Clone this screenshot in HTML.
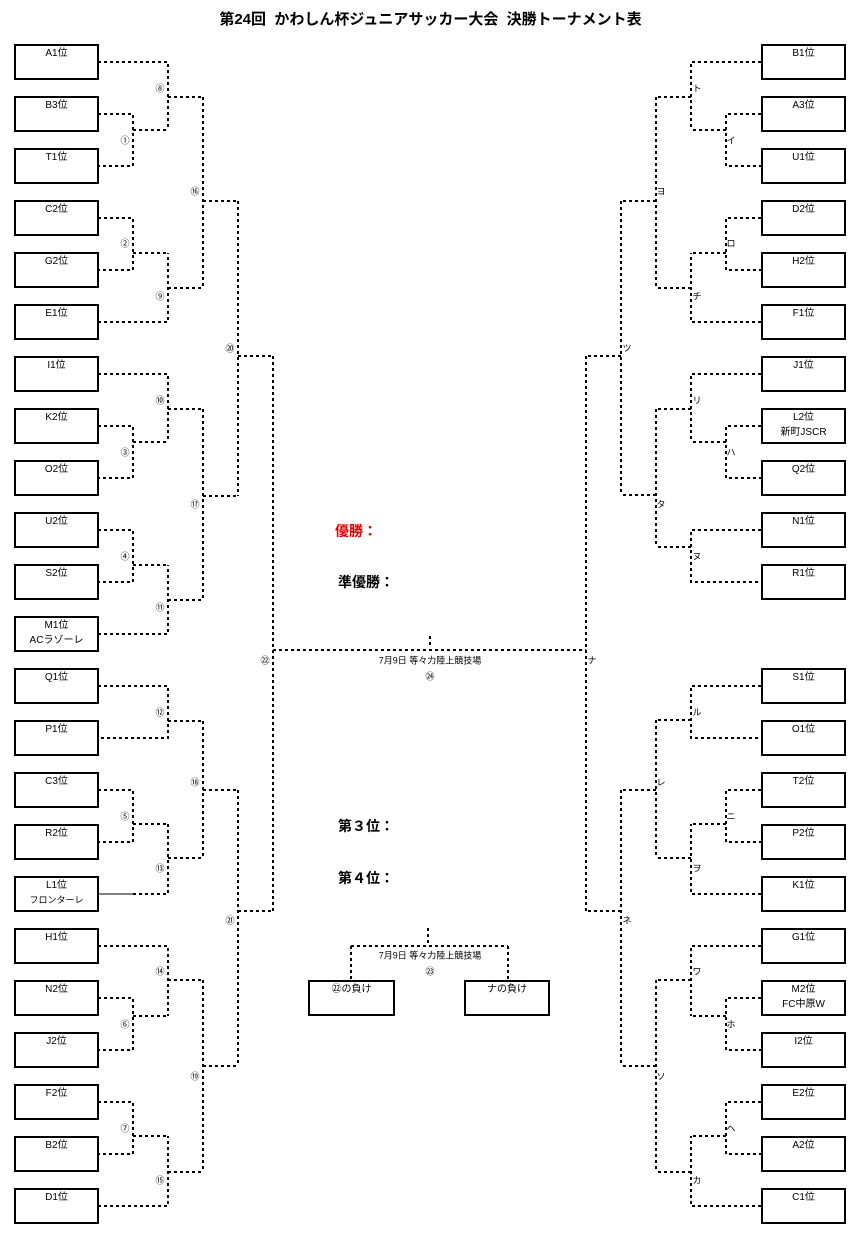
<!DOCTYPE html>
<html><head><meta charset="utf-8">
<style>
body{margin:0;background:#fff;}
#w{position:relative;width:861px;height:1239px;overflow:hidden;font-family:"Liberation Sans","Noto Sans CJK JP",sans-serif;}
.b{position:absolute;width:81px;height:32px;border:2px solid #000;border-left-width:2px;font-size:10px;text-align:center;line-height:15px;color:#000;box-sizing:content-box;}
.t{position:absolute;font-size:9px;color:#000;transform:translate(-50%,-50%);white-space:nowrap;}
.h{position:absolute;font-weight:bold;font-size:14px;}
svg{position:absolute;left:0;top:0;}
</style></head><body><div id="w">
<div style="position:absolute;left:0;width:861px;top:8px;text-align:center;font-weight:bold;font-size:15px;">第24回&nbsp; かわしん杯ジュニアサッカー大会&nbsp; 決勝トーナメント表</div>

<svg width="861" height="1239">
<g fill="none" stroke="#000" stroke-width="2" stroke-dasharray="3,3">
<!-- left side -->
<path d="M98 114H133V166H98 M133 130H168 M98 62H168V130 M168 97H203"/>
<path d="M98 218H133V270H98 M133 253H168 M98 322H168V253 M168 288H203 M203 97V288 M203 201H238"/>
<path d="M98 426H133V478H98 M133 442H168 M98 374H168V442 M168 409H203"/>
<path d="M98 530H133V582H98 M133 565H168 M98 634H168V565 M168 600H203 M203 409V600 M203 496H238 M238 201V496 M238 356H273"/>
<path d="M98 686H168V738H98 M168 721H203"/>
<path d="M98 790H133V842H98 M133 824H168 M133 894H168V824 M168 858H203 M203 721V858 M203 790H238"/>
<path d="M98 998H133V1050H98 M133 1016H168 M98 946H168V1016 M168 980H203"/>
<path d="M98 1102H133V1154H98 M133 1136H168 M98 1206H168V1136 M168 1172H203 M203 980V1172 M203 1066H238 M238 790V1066 M238 911H273"/>
<path d="M273 356V911 M273 650H586 M430 636V648"/>
<!-- right side mirrored -->
<g transform="translate(859,0) scale(-1,1)">
<path d="M98 114H133V166H98 M133 130H168 M98 62H168V130 M168 97H203"/>
<path d="M98 218H133V270H98 M133 253H168 M98 322H168V253 M168 288H203 M203 97V288 M203 201H238"/>
<path d="M98 426H133V478H98 M133 442H168 M98 374H168V442 M168 409H203"/>
<path d="M98 530H168V582H98 M168 547H203 M203 409V547 M203 495H238 M238 201V495 M238 356H273"/>
<path d="M98 686H168V738H98 M168 720H203"/>
<path d="M98 790H133V842H98 M133 824H168 M98 894H168V824 M168 858H203 M203 720V858 M203 790H238"/>
<path d="M98 998H133V1050H98 M133 1016H168 M98 946H168V1016 M168 980H203"/>
<path d="M98 1102H133V1154H98 M133 1136H168 M98 1206H168V1136 M168 1172H203 M203 980V1172 M203 1066H238 M238 790V1066 M238 911H273"/>
<path d="M273 356V911"/>
</g>
<path d="M428 928V945 M351 946H508 M351 946V981 M508 946V981"/>
</g>
<path d="M98 894H133" stroke="#000" stroke-width="1"/>
</svg>

<!-- left boxes -->
<div class="b" style="left:14px;top:44px">A1位</div>
<div class="b" style="left:14px;top:96px">B3位</div>
<div class="b" style="left:14px;top:148px">T1位</div>
<div class="b" style="left:14px;top:200px">C2位</div>
<div class="b" style="left:14px;top:252px">G2位</div>
<div class="b" style="left:14px;top:304px">E1位</div>
<div class="b" style="left:14px;top:356px">I1位</div>
<div class="b" style="left:14px;top:408px">K2位</div>
<div class="b" style="left:14px;top:460px">O2位</div>
<div class="b" style="left:14px;top:512px">U2位</div>
<div class="b" style="left:14px;top:564px">S2位</div>
<div class="b" style="left:14px;top:616px">M1位<br>ACラゾーレ</div>
<div class="b" style="left:14px;top:668px">Q1位</div>
<div class="b" style="left:14px;top:720px">P1位</div>
<div class="b" style="left:14px;top:772px">C3位</div>
<div class="b" style="left:14px;top:824px">R2位</div>
<div class="b" style="left:14px;top:876px">L1位<br><span style="font-size:9px">フロンターレ</span></div>
<div class="b" style="left:14px;top:928px">H1位</div>
<div class="b" style="left:14px;top:980px">N2位</div>
<div class="b" style="left:14px;top:1032px">J2位</div>
<div class="b" style="left:14px;top:1084px">F2位</div>
<div class="b" style="left:14px;top:1136px">B2位</div>
<div class="b" style="left:14px;top:1188px">D1位</div>
<!-- right boxes -->
<div class="b" style="left:761px;top:44px">B1位</div>
<div class="b" style="left:761px;top:96px">A3位</div>
<div class="b" style="left:761px;top:148px">U1位</div>
<div class="b" style="left:761px;top:200px">D2位</div>
<div class="b" style="left:761px;top:252px">H2位</div>
<div class="b" style="left:761px;top:304px">F1位</div>
<div class="b" style="left:761px;top:356px">J1位</div>
<div class="b" style="left:761px;top:408px">L2位<br>新町JSCR</div>
<div class="b" style="left:761px;top:460px">Q2位</div>
<div class="b" style="left:761px;top:512px">N1位</div>
<div class="b" style="left:761px;top:564px">R1位</div>
<div class="b" style="left:761px;top:668px">S1位</div>
<div class="b" style="left:761px;top:720px">O1位</div>
<div class="b" style="left:761px;top:772px">T2位</div>
<div class="b" style="left:761px;top:824px">P2位</div>
<div class="b" style="left:761px;top:876px">K1位</div>
<div class="b" style="left:761px;top:928px">G1位</div>
<div class="b" style="left:761px;top:980px">M2位<br>FC中原W</div>
<div class="b" style="left:761px;top:1032px">I2位</div>
<div class="b" style="left:761px;top:1084px">E2位</div>
<div class="b" style="left:761px;top:1136px">A2位</div>
<div class="b" style="left:761px;top:1188px">C1位</div>
<!-- bottom center boxes -->
<div class="b" style="left:308px;top:980px;width:83px;">㉒の負け</div>
<div class="b" style="left:464px;top:980px;width:82px;">ナの負け</div>

<!-- left labels -->
<div class="t" style="left:160px;top:88px">⑧</div>
<div class="t" style="left:125px;top:140px">①</div>
<div class="t" style="left:195px;top:191px">⑯</div>
<div class="t" style="left:125px;top:243px">②</div>
<div class="t" style="left:160px;top:296px">⑨</div>
<div class="t" style="left:230px;top:348px">⑳</div>
<div class="t" style="left:160px;top:400px">⑩</div>
<div class="t" style="left:125px;top:452px">③</div>
<div class="t" style="left:195px;top:504px">⑰</div>
<div class="t" style="left:125px;top:556px">④</div>
<div class="t" style="left:160px;top:607px">⑪</div>
<div class="t" style="left:265px;top:660px">㉒</div>
<div class="t" style="left:160px;top:712px">⑫</div>
<div class="t" style="left:195px;top:782px">⑱</div>
<div class="t" style="left:125px;top:816px">⑤</div>
<div class="t" style="left:160px;top:868px">⑬</div>
<div class="t" style="left:230px;top:920px">㉑</div>
<div class="t" style="left:160px;top:971px">⑭</div>
<div class="t" style="left:125px;top:1024px">⑥</div>
<div class="t" style="left:195px;top:1076px">⑲</div>
<div class="t" style="left:125px;top:1128px">⑦</div>
<div class="t" style="left:160px;top:1180px">⑮</div>
<!-- right labels -->
<div class="t" style="left:697px;top:88px">ト</div>
<div class="t" style="left:731px;top:140px">イ</div>
<div class="t" style="left:661px;top:191px">ヨ</div>
<div class="t" style="left:731px;top:243px">ロ</div>
<div class="t" style="left:697px;top:296px">チ</div>
<div class="t" style="left:627px;top:348px">ツ</div>
<div class="t" style="left:697px;top:400px">リ</div>
<div class="t" style="left:731px;top:452px">ハ</div>
<div class="t" style="left:661px;top:504px">タ</div>
<div class="t" style="left:697px;top:556px">ヌ</div>
<div class="t" style="left:592px;top:660px">ナ</div>
<div class="t" style="left:697px;top:712px">ル</div>
<div class="t" style="left:661px;top:782px">レ</div>
<div class="t" style="left:731px;top:816px">ニ</div>
<div class="t" style="left:697px;top:868px">ヲ</div>
<div class="t" style="left:627px;top:920px">ネ</div>
<div class="t" style="left:697px;top:971px">ワ</div>
<div class="t" style="left:731px;top:1024px">ホ</div>
<div class="t" style="left:661px;top:1076px">ソ</div>
<div class="t" style="left:731px;top:1128px">ヘ</div>
<div class="t" style="left:697px;top:1180px">カ</div>

<!-- center -->
<div class="t" style="left:430px;top:660px">7月9日 等々力陸上競技場</div>
<div class="t" style="left:430px;top:676px">㉔</div>
<div class="t" style="left:430px;top:955px">7月9日 等々力陸上競技場</div>
<div class="t" style="left:430px;top:971px">㉓</div>

<div class="h" style="left:335px;top:521px;color:#e00000;">優勝：</div>
<div class="h" style="left:338px;top:572px;">準優勝：</div>
<div class="h" style="left:338px;top:816px;">第３位：</div>
<div class="h" style="left:338px;top:868px;">第４位：</div>
</div></body></html>
